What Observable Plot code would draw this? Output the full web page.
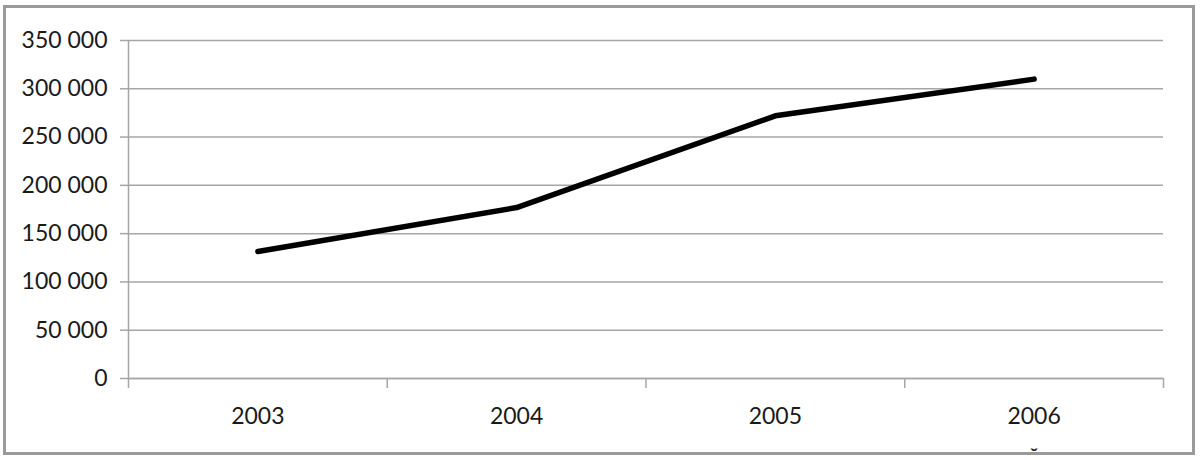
<!DOCTYPE html>
<html>
<head>
<meta charset="utf-8">
<script src="https://cdn.jsdelivr.net/npm/d3@7"></script>
<script src="https://cdn.jsdelivr.net/npm/@observablehq/plot@0.6"></script>
<style>
  html, body { margin: 0; padding: 0; background: #fff; }
  #wrap { position: relative; width: 1200px; height: 460px; overflow: hidden; }
  #border { position: absolute; left: 3px; top: 5px; width: 1186px; height: 444px; border: 3px solid #9a9a9a; box-sizing: content-box; pointer-events: none; }
  #chart { position: absolute; left: 0; top: 0; }
  #mark { position: absolute; left: 1030px; top: 447px; font: bold 16px "Noto Sans", sans-serif; color: #222; line-height: 16px; }
</style>
</head>
<body>
<div id="wrap">
  <div id="chart"></div>
  <div id="border"></div>
  <div id="mark">ˇ</div>
</div>
<script>
const years = [2003, 2004, 2005, 2006];
const values = [131500, 177000, 272000, 310000];
const yTicks = [0, 50000, 100000, 150000, 200000, 250000, 300000, 350000];
const bandEdges = [2002.5, 2003.5, 2004.5, 2005.5, 2006.5];

const data = years.map((y, i) => ({year: y, value: values[i]}));
const fmt = d3.formatLocale({decimal: ",", thousands: " ", grouping: [3], currency: ["", ""]}).format(",d");

const chart = Plot.plot({
  width: 1200,
  height: 460,
  marginLeft: 128,
  marginRight: 37,
  marginTop: 40,
  marginBottom: 82,
  style: {fontFamily: "Lato, sans-serif", fontSize: "23px", color: "#1a1a1a", background: "transparent"},
  x: {type: "linear", domain: [bandEdges[0], bandEdges[bandEdges.length - 1]]},
  y: {domain: [0, 350000]},
  marks: [
    Plot.gridY(yTicks, {stroke: "#a6a6a6", strokeOpacity: 1, strokeWidth: 1.5}),
    Plot.ruleX([bandEdges[0]], {y1: 0, y2: 350000, stroke: "#a6a6a6", strokeWidth: 1.5}),
    Plot.ruleY([0], {stroke: "#a6a6a6", strokeWidth: 1.5}),
    Plot.axisY({ticks: yTicks, tickSize: 8, tickPadding: 13, tickFormat: fmt, stroke: "#a6a6a6", strokeWidth: 1.5, label: null, fill: "#1a1a1a"}),
    Plot.axisX({ticks: bandEdges, tickSize: 10, tickFormat: () => "", stroke: "#a6a6a6", strokeWidth: 1.5, label: null}),
    Plot.axisX({ticks: years, tickSize: 0, tickPadding: 29, tickFormat: d3.format("d"), label: null, fill: "#1a1a1a"}),
    Plot.line(data, {x: "year", y: "value", stroke: "#000", strokeWidth: 5.5, strokeLinecap: "round", strokeLinejoin: "round"})
  ]
});
document.getElementById("chart").appendChild(chart);
</script>
</body>
</html>
